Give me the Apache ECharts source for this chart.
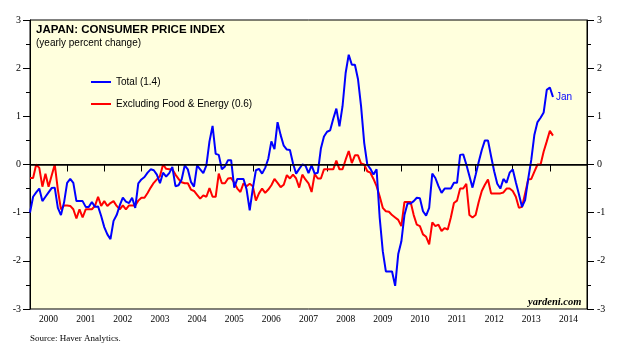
<!DOCTYPE html>
<html>
<head>
<meta charset="utf-8">
<script src="https://cdn.jsdelivr.net/npm/echarts@6/dist/echarts.min.js"></script>
<style>
html,body{margin:0;padding:0;background:#fff;}
#c{width:619px;height:356px;}
</style>
</head>
<body>
<div id="c"></div>
<script>
// Monthly values, month-end points starting Dec 1999 (index 0) through Jan 2014 (index 169)
const yearLabels = ['2000','2001','2002','2003','2004','2005','2006','2007','2008','2009','2010','2011','2012','2013','2014'];
const totalCPI = [
  -1.0,
  -0.67,-0.58,-0.5,-0.76,-0.67,-0.58,-0.49,-0.48,-0.9,-1.05,-0.79,-0.38,
  -0.3,-0.38,-0.76,-0.76,-0.76,-0.88,-0.88,-0.78,-0.88,-0.87,-1.07,-1.3,
  -1.45,-1.55,-1.17,-1.05,-0.85,-0.69,-0.77,-0.8,-0.69,-0.9,-0.39,-0.31,
  -0.26,-0.17,-0.1,-0.12,-0.21,-0.39,-0.17,-0.25,-0.18,-0.05,-0.45,-0.43,
  -0.31,-0.02,-0.1,-0.36,-0.46,-0.02,-0.1,-0.18,-0.02,0.48,0.8,0.22,
  0.2,-0.1,-0.04,0.09,0.09,-0.48,-0.3,-0.3,-0.3,-0.52,-0.95,-0.5,
  -0.12,-0.09,-0.19,-0.07,0.12,0.48,0.32,0.88,0.61,0.39,0.31,0.3,
  0.02,-0.19,-0.09,0.0,-0.02,-0.18,-0.02,-0.19,-0.17,0.33,0.58,0.68,
  0.71,0.95,1.16,0.79,1.21,1.9,2.28,2.07,2.07,1.77,1.2,0.45,
  0.0,-0.09,-0.21,-0.1,-1.1,-1.8,-2.22,-2.22,-2.22,-2.52,-1.86,-1.6,
  -1.05,-0.81,-0.81,-0.76,-0.69,-0.7,-0.97,-1.06,-0.9,-0.19,-0.28,-0.45,
  -0.59,-0.5,-0.5,-0.5,-0.38,-0.38,0.2,0.21,0.0,-0.24,-0.48,-0.22,
  0.05,0.3,0.5,0.5,0.17,-0.14,-0.4,-0.5,-0.3,-0.38,-0.17,-0.1,
  -0.37,-0.62,-0.88,-0.74,-0.3,0.1,0.62,0.88,0.97,1.08,1.55,1.6,
  1.4
];
const coreCPI = [
  -0.28,
  -0.28,0.0,-0.07,-0.46,-0.19,-0.46,-0.23,0.0,-0.52,-0.93,-0.85,-0.85,
  -0.86,-0.93,-1.12,-0.93,-1.1,-0.93,-0.93,-0.93,-0.86,-0.67,-0.86,-0.76,
  -0.86,-0.8,-0.76,-0.86,-0.93,-0.85,-0.93,-0.85,-0.85,-0.85,-0.75,-0.69,
  -0.69,-0.59,-0.48,-0.38,-0.31,-0.24,0.0,-0.09,-0.1,-0.1,-0.21,-0.3,
  -0.37,-0.39,-0.39,-0.52,-0.55,-0.63,-0.71,-0.64,-0.67,-0.49,-0.67,-0.67,
  -0.19,-0.39,-0.39,-0.29,-0.28,-0.38,-0.5,-0.57,-0.39,-0.45,-0.4,-0.45,
  -0.75,-0.6,-0.5,-0.59,-0.52,-0.43,-0.3,-0.38,-0.47,-0.42,-0.22,-0.29,
  -0.21,-0.29,-0.48,-0.21,-0.31,-0.39,-0.57,-0.2,-0.29,-0.29,-0.1,-0.1,
  -0.1,-0.1,0.08,-0.1,-0.1,0.1,0.28,0.03,0.19,0.19,0.02,0.0,
  -0.14,-0.17,-0.3,-0.45,-0.66,-0.9,-0.97,-0.98,-1.05,-1.1,-1.15,-1.28,
  -0.78,-0.78,-0.78,-1.05,-1.25,-1.28,-1.45,-1.5,-1.66,-1.2,-1.28,-1.25,
  -1.38,-1.32,-1.35,-1.1,-0.8,-0.75,-0.5,-0.5,-0.4,-1.05,-1.1,-1.05,
  -0.78,-0.55,-0.42,-0.31,-0.6,-0.6,-0.6,-0.6,-0.58,-0.5,-0.5,-0.55,
  -0.67,-0.9,-0.88,-0.6,-0.31,-0.3,-0.15,0.0,0.0,0.27,0.48,0.7,
  0.6
];
const totalName = 'Total (1.4)';
const coreName = 'Excluding Food & Energy (0.6)';

const toPairs = arr => arr.map((v, i) => [i, v]);

const chart = echarts.init(document.getElementById('c'), null, {renderer: 'canvas'});
const serif = '"Liberation Serif", "Times New Roman", serif';
const sans = '"Liberation Sans", Arial, sans-serif';

const yAxisCommon = {
  type: 'value', min: -3, max: 3, interval: 1,
  axisLine: {show: true, lineStyle: {color: '#000', width: 1}},
  axisTick: {show: true, length: 7, lineStyle: {color: '#000'}},
  minorTick: {show: true, splitNumber: 2, length: 4, lineStyle: {color: '#000'}},
  splitLine: {show: false},
  axisLabel: {color: '#000', fontFamily: serif, fontSize: 10, margin: 9}
};

chart.setOption({
  animation: false,
  backgroundColor: '#fff',
  title: [
    {text: 'JAPAN: CONSUMER PRICE INDEX', left: 36, top: 24, padding: 0, textStyle: {fontFamily: sans, fontSize: 11.5, fontWeight: 'bold', color: '#000'}},
    {text: '(yearly percent change)', left: 36, top: 38, padding: 0, textStyle: {fontFamily: sans, fontSize: 10, fontWeight: 'normal', color: '#000'}},
    {text: 'yardeni.com', left: 528, top: 297, padding: 0, textStyle: {fontFamily: serif, fontSize: 10.5, fontWeight: 'bold', fontStyle: 'italic', color: '#000'}},
    {text: 'Source: Haver Analytics.', left: 30, top: 334, padding: 0, textStyle: {fontFamily: serif, fontSize: 9, fontWeight: 'normal', color: '#000'}}
  ],
  legend: {
    orient: 'vertical', left: 91, top: 76, padding: 0,
    itemWidth: 20, itemHeight: 2, itemGap: 10, icon: 'rect',
    textStyle: {fontFamily: sans, fontSize: 10, color: '#000', lineHeight: 12},
    data: [totalName, coreName]
  },
  grid: {
    left: 30, right: 32, top: 20, bottom: 47,
    show: true, backgroundColor: '#FFFFDD', borderColor: '#000', borderWidth: 1
  },
  xAxis: [
    {type: 'value', min: 0, max: 180, show: false},
    {
      type: 'category', data: yearLabels, boundaryGap: true, position: 'bottom',
      axisLine: {show: true, lineStyle: {color: '#000'}},
      axisTick: {show: true, length: 7, interval: 0, lineStyle: {color: '#000'}},
      axisLabel: {color: '#000', fontFamily: serif, fontSize: 9.5, margin: 5, interval: 0},
      splitLine: {show: false}
    }
  ],
  yAxis: [
    Object.assign({}, yAxisCommon, {position: 'left'}),
    Object.assign({}, yAxisCommon, {position: 'right', axisLabel: Object.assign({}, yAxisCommon.axisLabel, {margin: 10})})
  ],
  series: [
    {
      name: totalName, type: 'line', xAxisIndex: 0, yAxisIndex: 0,
      data: toPairs(totalCPI), symbol: 'none', color: '#0000FF',
      lineStyle: {color: '#0000FF', width: 2},
      endLabel: {show: true, formatter: 'Jan', color: '#0000FF', fontFamily: sans, fontSize: 10, distance: 3},
      markLine: {
        silent: true, symbol: 'none', label: {show: false},
        lineStyle: {color: '#000', width: 1.5, type: 'solid'},
        data: [{yAxis: 0}]
      },
      z: 3
    },
    {
      name: coreName, type: 'line', xAxisIndex: 0, yAxisIndex: 0,
      data: toPairs(coreCPI), symbol: 'none', color: '#FF0000',
      lineStyle: {color: '#FF0000', width: 2},
      z: 2
    }
  ]
});
</script>
</body>
</html>
